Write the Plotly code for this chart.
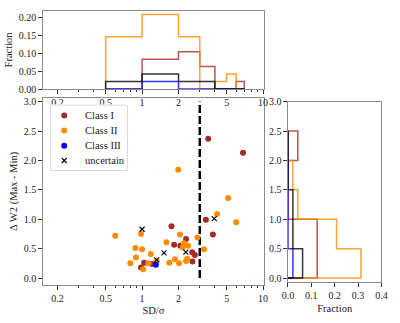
import plotly.graph_objects as go

# --- scatter data: SD/sigma vs Delta W2 amplitude ---
class1_sd = [3.52, 6.83, 3.37, 3.85, 1.75, 1.84, 2.31, 2.07, 2.60, 2.73, 2.61, 0.98, 1.04, 1.21]
class1_dw = [2.37, 2.13, 0.99, 0.74, 0.88, 0.565, 0.665, 0.55, 0.44, 0.39, 0.28, 0.18, 0.26, 0.24]

class2_sd = [0.60, 0.98, 0.88, 1.00, 0.89, 1.18, 0.80, 1.02, 1.13, 1.32, 1.59, 1.68, 2.06,
             2.22, 2.40, 2.17, 2.87, 3.25, 1.87, 2.36, 2.31, 2.02, 1.99, 5.15, 4.17, 6.00]
class2_dw = [0.72, 0.75, 0.51, 0.49, 0.35, 0.41, 0.25, 0.15, 0.25, 0.29, 0.61, 0.26, 0.74,
             0.59, 0.55, 0.52, 0.69, 0.49, 0.32, 0.33, 0.29, 0.25, 1.84, 1.36, 1.09, 0.95]

class3_sd = [1.30]
class3_dw = [0.225]

unc_sd = [1.00, 1.32, 1.52, 2.30, 3.95]
unc_dw = [0.83, 0.31, 0.43, 0.44, 1.01]

sd_threshold = 3.0
threshold_dw_span = [0.0, 3.0]

# --- histogram of SD/sigma (top panel) ---
sd_edges = [0.5, 1, 2, 3, 4, 5, 6, 7]
sd_frac_class1 = [0, 0.083, 0.104, 0.0625, 0, 0, 0.021]
sd_frac_class2 = [0.146, 0.208, 0.146, 0, 0.021, 0.042, 0]
sd_frac_class3 = [0, 0.021, 0, 0, 0, 0, 0]
sd_frac_unc = [0.021, 0.042, 0.021, 0.021, 0, 0, 0]

# --- histogram of Delta W2 (right panel) ---
dw_edges = [0.0, 0.5, 1.0, 1.5, 2.0, 2.5]
dw_frac_class1 = [0.125, 0.125, 0, 0, 0.042]
dw_frac_class2 = [0.3125, 0.208, 0.042, 0.021, 0]
dw_frac_class3 = [0.021, 0, 0, 0, 0]
dw_frac_unc = [0.0625, 0.021, 0.021, 0, 0]

labels = ["Class I", "Class II", "Class III", "uncertain"]
dot_colors = ["#a52a2a", "#ff8c00", "#0000ff", "#000000"]
hist_colors = ["rgba(165,42,42,0.8)", "rgba(255,140,0,0.8)", "rgba(0,0,255,0.8)", "rgba(0,0,0,0.8)"]
symbols = ["circle", "circle", "circle", "x-thin"]

FONT = "Liberation Serif"


def step_outline(edges, vals):
    """Outline of a step histogram: (edge, value) pairs, open at the baseline."""
    pos, height = [edges[0]], [0.0]
    for i, v in enumerate(vals):
        pos += [edges[i], edges[i + 1]]
        height += [v, v]
    pos.append(edges[-1])
    height.append(0.0)
    return pos, height


def marker_style(i):
    if symbols[i] == "x-thin":
        return dict(color="black", size=5, symbol="x-thin", line=dict(color="black", width=1.1))
    return dict(color=dot_colors[i], size=6, symbol=symbols[i])


fig = go.Figure()

# top histogram
for vals, col in zip([sd_frac_class1, sd_frac_class2, sd_frac_class3, sd_frac_unc], hist_colors):
    xs, ys = step_outline(sd_edges, vals)
    fig.add_trace(go.Scatter(x=xs, y=ys, mode="lines", line=dict(color=col, width=1.5),
                             xaxis="x2", yaxis="y2", showlegend=False, hoverinfo="skip"))

# right histogram (horizontal)
for vals, col in zip([dw_frac_class1, dw_frac_class2, dw_frac_class3, dw_frac_unc], hist_colors):
    ys, xs = step_outline(dw_edges, vals)
    fig.add_trace(go.Scatter(x=xs, y=ys, mode="lines", line=dict(color=col, width=1.5),
                             xaxis="x3", yaxis="y3", showlegend=False, hoverinfo="skip"))

# main scatter
fig.add_trace(go.Scatter(x=[sd_threshold, sd_threshold], y=threshold_dw_span, mode="lines",
                         line=dict(color="black", width=2.5, dash="8px,3px"),
                         showlegend=False, hoverinfo="skip"))
for i, (sx, sy) in enumerate([(class1_sd, class1_dw), (class2_sd, class2_dw),
                              (class3_sd, class3_dw), (unc_sd, unc_dw)]):
    fig.add_trace(go.Scatter(x=sx, y=sy, mode="markers", name=labels[i],
                             marker=marker_style(i), showlegend=False))

# compact legend box drawn on its own pixel-scaled axis
LEG_W, LEG_H = 81, 69
leg_marker_x = 15
leg_text_x = 34
leg_rows_y = [57.7, 42.0, 26.3, 11.0]
for i in range(4):
    fig.add_trace(go.Scatter(x=[leg_marker_x], y=[leg_rows_y[i]], mode="markers",
                             marker=marker_style(i), xaxis="x4", yaxis="y4",
                             showlegend=False, hoverinfo="skip"))
    fig.add_annotation(x=leg_text_x, y=leg_rows_y[i], xref="x4", yref="y4", text=labels[i],
                       showarrow=False, xanchor="left", yanchor="middle",
                       font=dict(family=FONT, size=10.5, color="#222"))
r = 3
fig.add_shape(type="path", xref="x4", yref="y4", layer="below",
              path=(f"M {r},0.5 L {LEG_W - r},0.5 Q {LEG_W - 0.5},0.5 {LEG_W - 0.5},{r} "
                    f"L {LEG_W - 0.5},{LEG_H - r} Q {LEG_W - 0.5},{LEG_H - 0.5} {LEG_W - r},{LEG_H - 0.5} "
                    f"L {r},{LEG_H - 0.5} Q 0.5,{LEG_H - 0.5} 0.5,{LEG_H - r} "
                    f"L 0.5,{r} Q 0.5,0.5 {r},0.5 Z"),
              line=dict(color="#d0d0d0", width=1), fillcolor="white")

axis_common = dict(showline=True, mirror=True, linecolor="#8a8a8a", linewidth=1,
                   ticks="outside", ticklen=3.5, tickwidth=0.8, tickcolor="#333",
                   showgrid=False, zeroline=False,
                   tickfont=dict(family=FONT, size=10, color="#222"))

log_ticks = [0.2, 0.5, 1, 2, 5, 10]
log_text = ["0.2", "0.5", "1", "2", "5", "10"]
log_minor = dict(tickvals=[0.3, 0.4, 0.6, 0.7, 0.8, 0.9, 3, 4, 6, 7, 8, 9],
                 ticks="outside", ticklen=2, tickcolor="#333", tickwidth=0.6)
x_range = [-0.82, 1.008]

dw_ticks = [0, 0.5, 1.0, 1.5, 2.0, 2.5, 3.0]
hidden = dict(visible=False, showgrid=False, zeroline=False, fixedrange=True)

fig.update_layout(
    width=400, height=323, margin=dict(l=0, r=0, t=0, b=0),
    paper_bgcolor="white", plot_bgcolor="white", showlegend=False,
    font=dict(family=FONT, size=10, color="#222"),
    xaxis=dict(axis_common, type="log", range=x_range, domain=[0.095, 0.665],
               tickvals=log_ticks, ticktext=log_text, minor=log_minor,
               title=dict(text="SD/σ", font=dict(family=FONT, size=10.5), standoff=4)),
    yaxis=dict(axis_common, range=[-0.12, 3.066], domain=[0.1022, 0.7028],
               tickvals=dw_ticks, tickformat=".1f",
               title=dict(text="Δ W2 (Max - Min)", font=dict(family=FONT, size=10.5), standoff=4)),
    xaxis2=dict(axis_common, type="log", range=x_range, domain=[0.095, 0.665], anchor="y2",
                tickvals=log_ticks, ticktext=log_text, minor=log_minor),
    yaxis2=dict(axis_common, range=[0, 0.218], domain=[0.7307, 0.9814], anchor="x2",
                tickvals=[0, 0.05, 0.10, 0.15, 0.20], tickformat=".2f",
                title=dict(text="Fraction", font=dict(family=FONT, size=10.5), standoff=4)),
    xaxis3=dict(axis_common, range=[0, 0.4], domain=[0.7268, 0.9675], anchor="y3",
                tickvals=[0, 0.1, 0.2, 0.3, 0.4], tickformat=".1f",
                title=dict(text="Fraction", font=dict(family=FONT, size=10.5), standoff=4)),
    yaxis3=dict(axis_common, range=[-0.07, 3.0], domain=[0.1115, 0.6904], anchor="x3",
                tickvals=dw_ticks, tickformat=".1f"),
    xaxis4=dict(hidden, range=[0, LEG_W], domain=[45 / 400, 126 / 400], anchor="y4"),
    yaxis4=dict(hidden, range=[0, LEG_H], domain=[1 - 172 / 323, 1 - 103 / 323], anchor="x4"),
)

fig.write_html("out.html")
